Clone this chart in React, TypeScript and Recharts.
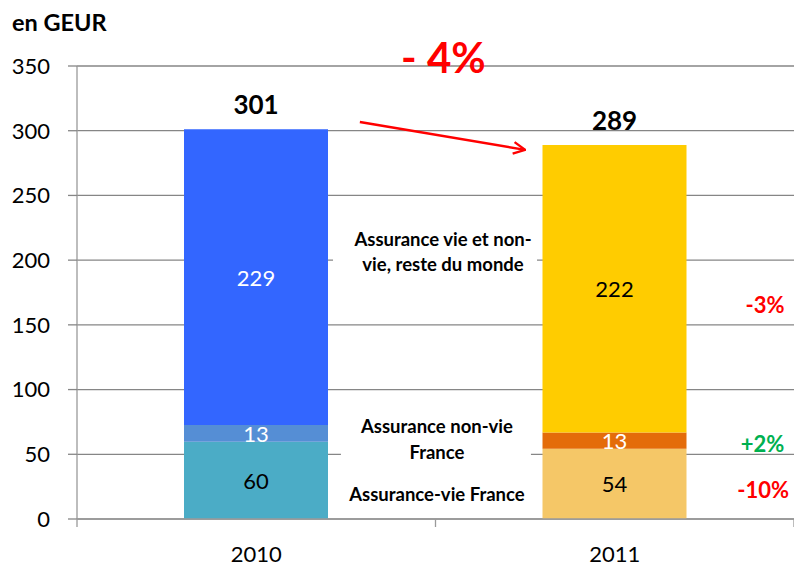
import React from 'react';
import {
  BarChart, Bar, XAxis, YAxis, CartesianGrid, Cell, LabelList, ReferenceDot, ReferenceLine,
} from 'recharts';

const categories = ['2010', '2011'];
const vieFrance = [59.7, 54.2];
const nonVieFrance = [12.9, 12.6];
const resteMonde = [228.6, 222.1];
const totals = [301, 289];
const yTicks = [0, 50, 100, 150, 200, 250, 300, 350];

const colVie = ['#4BACC6', '#F5C767'];
const colNonVie = ['#558ED5', '#E46C0A'];
const colReste = ['#3366FF', '#FFCC00'];
const lblVie = ['#000000', '#000000'];
const lblNonVie = ['#FFFFFF', '#FFFFFF'];
const lblReste = ['#FFFFFF', '#000000'];

const FONT = 'Lato, "Open Sans", sans-serif';

const data = categories.map((c, i) => ({
  pos: i + 0.5,
  year: c,
  vie: vieFrance[i],
  nonvie: nonVieFrance[i],
  reste: resteMonde[i],
  total: totals[i],
}));

const xTicks = [0, 0.5, 1, 1.5, 2];

const XTick = (props: any) => {
  const { x, y, payload } = props;
  const v = Number(payload.value);
  if (Number.isInteger(v)) {
    return <line x1={x} y1={y} x2={x} y2={y + 8} stroke="#9a9a9a" strokeWidth={1.3} />;
  }
  const idx = Math.floor(v);
  return (
    <text x={x} y={y + 34} textAnchor="middle" dominantBaseline="central" fill="#000" fontFamily={FONT} fontSize={22}>
      {categories[idx]}
    </text>
  );
};

const valueLabel = (colors: string[]) => (props: any) => {
  const vb = props.viewBox ?? props;
  const { x, y, width, height } = vb;
  const idx = props.index ?? 0;
  return (
    <text
      x={x + width / 2}
      y={y + height / 2}
      textAnchor="middle"
      dominantBaseline="central"
      fill={colors[idx]}
      fontFamily={FONT}
      fontSize={22}
    >
      {Math.round(Number(props.value))}
    </text>
  );
};

const totalLabel = (props: any) => {
  const vb = props.viewBox ?? props;
  const { x, y, width } = vb;
  return (
    <text
      x={x + width / 2}
      y={y - 25}
      textAnchor="middle"
      dominantBaseline="central"
      fill="#000"
      fontFamily={FONT}
      fontWeight="bold"
      fontSize={26}
    >
      {props.value}
    </text>
  );
};

const boxText = (
  lines: string[],
  opts: { size: number; color: string; box?: number; boxDx?: number; lh?: number; ls?: number },
) => (props: any) => {
  const vb = props.viewBox ?? {};
  const cx = vb.x + (vb.width || 0) / 2;
  const cy = vb.y + (vb.height || 0) / 2;
  const lh = opts.lh ?? opts.size * 1.55;
  const top = cy - ((lines.length - 1) * lh) / 2;
  const bx = cx + (opts.boxDx ?? 0);
  return (
    <g>
      {opts.box ? (
        <rect
          x={bx - opts.box / 2}
          y={cy - (lines.length * lh) / 2 - 6}
          width={opts.box}
          height={lines.length * lh + 12}
          fill="#FFFFFF"
        />
      ) : null}
      {lines.map((l, i) => (
        <text
          key={i}
          x={cx}
          y={top + i * lh}
          textAnchor="middle"
          dominantBaseline="central"
          fill={opts.color}
          fontFamily={FONT}
          fontWeight="bold"
          fontSize={opts.size}
          letterSpacing={opts.ls ?? 0}
        >
          {l}
        </text>
      ))}
    </g>
  );
};

export default function App() {
  return (
    <div style={{ position: 'absolute', left: 0, top: 0, width: 794, height: 565, background: '#fff' }}>
      <div
        style={{
          position: 'absolute', left: 12, top: 7, fontFamily: FONT, fontWeight: 'bold',
          fontSize: 23.5, color: '#000', lineHeight: '30px',
        }}
      >
        en GEUR
      </div>
      <BarChart
        width={794}
        height={565}
        data={data}
        margin={{ top: 66, right: 0, bottom: 0, left: 0 }}
      >
        <defs>
          <marker id="arrowHead" viewBox="0 0 12 12" refX="11" refY="6" markerWidth="14" markerHeight="14" markerUnits="userSpaceOnUse" orient="auto">
            <path d="M1,1 L11,6 L1,11" fill="none" stroke="#FF0000" strokeWidth={2} />
          </marker>
        </defs>
        <CartesianGrid vertical={false} stroke="#868686" strokeWidth={1.3} />
        <XAxis
          dataKey="pos"
          type="number"
          domain={[0, 2]}
          ticks={xTicks}
          interval={0}
          allowDataOverflow
          tickLine={false}
          tickSize={0}
          tickMargin={0}
          axisLine={{ stroke: '#9a9a9a', strokeWidth: 1.3 }}
          tick={<XTick />}
          height={46}
        />
        <YAxis
          domain={[0, 350]}
          ticks={yTicks}
          width={77}
          tickSize={9}
          tickMargin={18}
          axisLine={{ stroke: '#9a9a9a', strokeWidth: 1.3 }}
          tickLine={{ stroke: '#868686', strokeWidth: 1.3 }}
          tick={{ fill: '#000', fontSize: 22, fontFamily: FONT }}
        />
        <Bar dataKey="vie" stackId="s" barSize={144} isAnimationActive={false}>
          {data.map((_, i) => <Cell key={i} fill={colVie[i]} />)}
          <LabelList dataKey="vie" content={valueLabel(lblVie)} />
        </Bar>
        <Bar dataKey="nonvie" stackId="s" barSize={144} isAnimationActive={false}>
          {data.map((_, i) => <Cell key={i} fill={colNonVie[i]} />)}
          <LabelList dataKey="nonvie" content={valueLabel(lblNonVie)} />
        </Bar>
        <Bar dataKey="reste" stackId="s" barSize={144} isAnimationActive={false}>
          {data.map((_, i) => <Cell key={i} fill={colReste[i]} />)}
          <LabelList dataKey="reste" content={valueLabel(lblReste)} />
          <LabelList dataKey="total" content={totalLabel} />
        </Bar>
        <ReferenceLine
          segment={[{ x: 0.789, y: 306.8 }, { x: 1.25, y: 285.2 }]}
          stroke="#FF0000"
          strokeWidth={2.5}
          markerEnd="url(#arrowHead)"
          ifOverflow="visible"
        />
        <ReferenceDot x={1.022} y={357} r={0} ifOverflow="visible"
          label={{ content: boxText(['- 4%'], { size: 42, color: '#FF0000' }) }} />
        <ReferenceDot x={1.021} y={206.3} r={0} ifOverflow="visible"
          label={{ content: boxText(['Assurance vie et non-', 'vie, reste du monde'], { size: 18.5, color: '#000', box: 204, boxDx: -8, lh: 25 }) }} />
        <ReferenceDot x={1.004} y={61.8} r={0} ifOverflow="visible"
          label={{ content: boxText(['Assurance non-vie', 'France'], { size: 18.5, color: '#000', box: 190, boxDx: -1, lh: 26 }) }} />
        <ReferenceDot x={1.004} y={19.3} r={0} ifOverflow="visible"
          label={{ content: boxText(['Assurance-vie France'], { size: 18.5, color: '#000', box: 200, lh: 22 }) }} />
        <ReferenceDot x={1.919} y={166.1} r={0} ifOverflow="visible"
          label={{ content: boxText(['-3%'], { size: 22, color: '#FF0000' }) }} />
        <ReferenceDot x={1.912} y={58} r={0} ifOverflow="visible"
          label={{ content: boxText(['+2%'], { size: 22, color: '#00B050' }) }} />
        <ReferenceDot x={1.914} y={22.8} r={0} ifOverflow="visible"
          label={{ content: boxText(['-10%'], { size: 22, color: '#FF0000' }) }} />
      </BarChart>
    </div>
  );
}
